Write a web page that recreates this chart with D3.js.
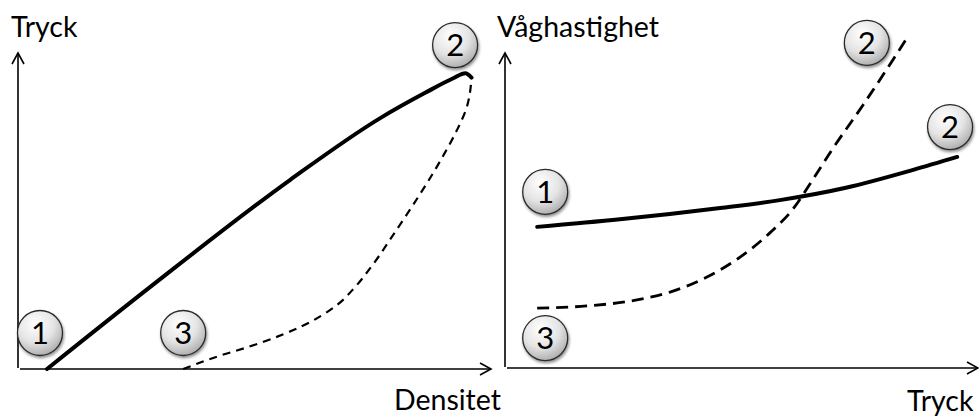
<!DOCTYPE html>
<html>
<head>
<meta charset="utf-8">
<script src="https://cdn.jsdelivr.net/npm/d3@7"></script>
<style>
  html, body { margin: 0; padding: 0; background: #fff; }
  svg { display: block; }
  text { font-family: Lato, "Open Sans", sans-serif; fill: #000; }
</style>
</head>
<body>
<svg id="chart" width="979" height="416"></svg>
<script>
// ---- Data (arbitrary schematic units, 0..100) ----
// Left panel: Tryck (pressure) vs Densitet (density)
const leftSolidX = [6.2, 28.2, 58.1, 77.4, 87.0, 93.0, 95.6, 96.9];
const leftSolidY = [0, 25.9, 59.8, 79.4, 87.4, 92.0, 93.6, 92.2];
const leftDashX = [35.3, 41.7, 51.7, 60.3, 68.2, 72.0, 75.9, 80.6, 85.5, 88.7, 91.2, 93.8, 95.9, 96.9];
const leftDashY = [0, 3.5, 8.2, 13.3, 20.3, 25.9, 33.2, 43.4, 54.4, 62.0, 68.4, 75.6, 82.9, 91.8];
const leftMarkerLabels = ["1", "3", "2"];
const leftMarkerX = [4.7, 35.3, 93.4];
const leftMarkerY = [11.4, 11.4, 102.5];

// Right panel: Våghastighet (wave speed) vs Tryck (pressure)
const rightSolidX = [6.8, 24.3, 45.5, 58.1, 72.3, 86.3, 95.6];
const rightSolidY = [44.8, 47.2, 50.8, 53.3, 57.3, 62.9, 67.0];
const rightDashX = [6.8, 17.3, 27.9, 34.9, 42.7, 49.7, 56.0, 60.9, 64.9, 69.1, 75.7, 82.0, 85.0];
const rightDashY = [19.0, 19.7, 21.6, 24.1, 28.9, 35.2, 42.9, 50.5, 59.4, 69.2, 83.5, 97.8, 104.8];
const rightMarkerLabels = ["1", "3", "2", "2"];
const rightMarkerX = [8.5, 8.5, 76.5, 94.1];
const rightMarkerY = [55.9, 9.5, 103.2, 76.5];

const axisLabels = { leftY: "Tryck", leftX: "Densitet", rightY: "Våghastighet", rightX: "Tryck" };

// ---- Drawing ----
const svg = d3.select("#chart");
const defs = svg.append("defs");

const grad = defs.append("radialGradient").attr("id", "ballGrad")
  .attr("cx", "40%").attr("cy", "30%").attr("r", "75%");
grad.append("stop").attr("offset", "0%").attr("stop-color", "#ffffff");
grad.append("stop").attr("offset", "55%").attr("stop-color", "#e4e4e4");
grad.append("stop").attr("offset", "100%").attr("stop-color", "#a8a8a8");

const shadow = defs.append("filter").attr("id", "shadow")
  .attr("x", "-40%").attr("y", "-40%").attr("width", "180%").attr("height", "180%");
shadow.append("feGaussianBlur").attr("in", "SourceAlpha").attr("stdDeviation", 1.6).attr("result", "b");
shadow.append("feOffset").attr("in", "b").attr("dx", 1.2).attr("dy", 2).attr("result", "o");
shadow.append("feComponentTransfer").attr("in", "o").attr("result", "s")
  .append("feFuncA").attr("type", "linear").attr("slope", 0.45);
const merge = shadow.append("feMerge");
merge.append("feMergeNode").attr("in", "s");
merge.append("feMergeNode").attr("in", "SourceGraphic");

function panel(cfg) {
  const x = d3.scaleLinear().domain([0, 100]).range(cfg.xRange);
  const y = d3.scaleLinear().domain([0, 100]).range(cfg.yRange);
  const g = svg.append("g");

  // axes with open arrowheads
  const x0 = cfg.axisX, yB = cfg.axisY;
  const xEnd = cfg.xAxisEnd, yTop = cfg.yAxisTop;
  const ax = g.append("g").attr("fill", "none").attr("stroke", "#000").attr("stroke-width", 1.6);
  ax.append("line").attr("x1", x0).attr("y1", yB - 1).attr("x2", x0).attr("y2", yTop);
  ax.append("path").attr("d", `M${x0 - 6},${yTop + 11}L${x0},${yTop}L${x0 + 6},${yTop + 11}`);
  ax.append("line").attr("x1", x0 + 2).attr("y1", yB).attr("x2", xEnd).attr("y2", yB);
  ax.append("path").attr("d", `M${xEnd - 11},${yB - 6}L${xEnd},${yB}L${xEnd - 11},${yB + 6}`);

  const lineX = d3.line().x(d => x(d[0])).y(d => y(d[1])).curve(d3.curveMonotoneX);
  const lineD = d3.line().x(d => x(d[0])).y(d => y(d[1])).curve(cfg.dashCurve);

  g.append("path").datum(d3.zip(cfg.dashX, cfg.dashY))
    .attr("d", lineD).attr("fill", "none").attr("stroke", "#000")
    .attr("stroke-width", cfg.dashWidth).attr("stroke-dasharray", cfg.dashArray);
  g.append("path").datum(d3.zip(cfg.solidX, cfg.solidY))
    .attr("d", lineX).attr("fill", "none").attr("stroke", "#000")
    .attr("stroke-width", 4).attr("stroke-linecap", "round");

  const m = g.selectAll("g.marker").data(d3.zip(cfg.mX, cfg.mY, cfg.mL)).join("g")
    .attr("class", "marker")
    .attr("transform", d => `translate(${x(d[0])},${y(d[1])})`);
  m.append("circle").attr("r", 22.5).attr("fill", "url(#ballGrad)")
    .attr("stroke", "#2a2a2a").attr("stroke-width", 1.3).attr("filter", "url(#shadow)");
  m.append("text").text(d => d[2]).attr("text-anchor", "middle")
    .attr("dy", "0.36em").attr("font-size", 31);

  g.append("text").text(cfg.yLabel).attr("x", cfg.yLabelPos[0]).attr("y", cfg.yLabelPos[1]).attr("font-size", 28.5);
  g.append("text").text(cfg.xLabel).attr("x", cfg.xLabelPos[0]).attr("y", cfg.xLabelPos[1]).attr("font-size", 28.5);
}

panel({
  xRange: [18, 486], yRange: [369, 53],
  axisX: 18, axisY: 369, xAxisEnd: 491, yAxisTop: 53,
  solidX: leftSolidX, solidY: leftSolidY,
  dashX: leftDashX, dashY: leftDashY, dashCurve: d3.curveMonotoneY, dashWidth: 2.2, dashArray: "8,6",
  mX: leftMarkerX, mY: leftMarkerY, mL: leftMarkerLabels,
  yLabel: axisLabels.leftY, yLabelPos: [11, 37],
  xLabel: axisLabels.leftX, xLabelPos: [394, 410]
});

panel({
  xRange: [505, 978], yRange: [368, 53],
  axisX: 505, axisY: 368, xAxisEnd: 978, yAxisTop: 53,
  solidX: rightSolidX, solidY: rightSolidY,
  dashX: rightDashX, dashY: rightDashY, dashCurve: d3.curveMonotoneX, dashWidth: 2.8, dashArray: "12,7",
  mX: rightMarkerX, mY: rightMarkerY, mL: rightMarkerLabels,
  yLabel: axisLabels.rightY, yLabelPos: [497, 37],
  xLabel: axisLabels.rightX, xLabelPos: [907, 411]
});
</script>
</body>
</html>
